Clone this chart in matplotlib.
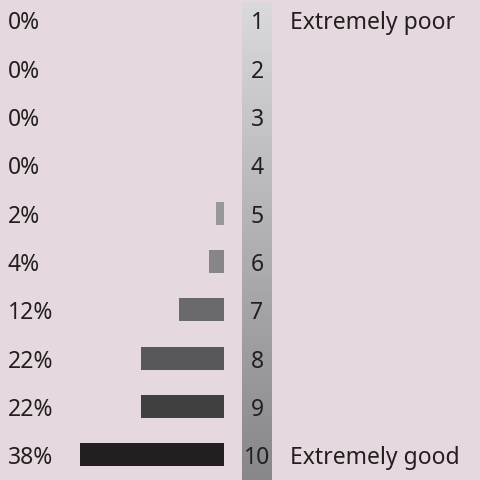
import matplotlib
matplotlib.use("Agg")
import matplotlib.pyplot as plt
import matplotlib.transforms as mtransforms
import numpy as np
from matplotlib.colors import LinearSegmentedColormap

scores = ["1", "2", "3", "4", "5", "6", "7", "8", "9", "10"]
percents = [0, 0, 0, 0, 2, 4, 12, 22, 22, 38]
bar_colors = ["#d0d0d2", "#c4c4c6", "#b8b8ba", "#acacae", "#98989c",
              "#86868a", "#6a6a6e", "#58585a", "#404040", "#231f20"]
end_labels = {0: "Extremely poor", 9: "Extremely good"}

BG = "#e5d9df"
TXT = "#231f20"
plt.rcParams['font.family'] = ['Noto Sans', 'DejaVu Sans']
FS = 16.5

W, H = 480, 481
fig = plt.figure(figsize=(W / 100, H / 100), dpi=100, facecolor=BG)

# gradient strip (behind)
sax = fig.add_axes([242 / W, 0, 30 / W, (H - 3) / H])
sax.axis("off")
sax.set_zorder(1)
cmap = LinearSegmentedColormap.from_list("g", ["#dadadc", "#87878b"])
sax.imshow(np.linspace(0, 1, 256).reshape(-1, 1), aspect="auto", cmap=cmap,
           extent=[0, 1, 1, 0])
sax.set_xlim(0, 1)
sax.set_ylim(1, 0)

ax = fig.add_axes([0, 0, 1, 1])
ax.set_zorder(2)
ax.patch.set_alpha(0)
ax.axis("off")

px_per_pct = 3.79
zero_px = 224
ax.set_xlim(zero_px / px_per_pct, (zero_px - W) / px_per_pct)
row_px = 48.3
first_px = 21
ax.set_ylim((H - first_px) / row_px, -first_px / row_px)

y = np.arange(len(scores))
ax.barh(y, percents, height=0.476, color=bar_colors, left=0)

tr = mtransforms.blended_transform_factory(fig.transFigure, ax.transData)
dy = 0.05
for i, (s, p) in enumerate(zip(scores, percents)):
    ax.text(8 / W, i + dy, f"{p}%", transform=tr, ha="left", va="center",
            fontsize=FS, color=TXT)
    ax.text(257 / W, i + dy, s, transform=tr, ha="center", va="center",
            fontsize=FS, color=TXT)
    if i in end_labels:
        ax.text(290 / W, i + dy, end_labels[i], transform=tr, ha="left",
                va="center", fontsize=FS, color=TXT)

fig.savefig("out.png", dpi=100, facecolor=BG)
